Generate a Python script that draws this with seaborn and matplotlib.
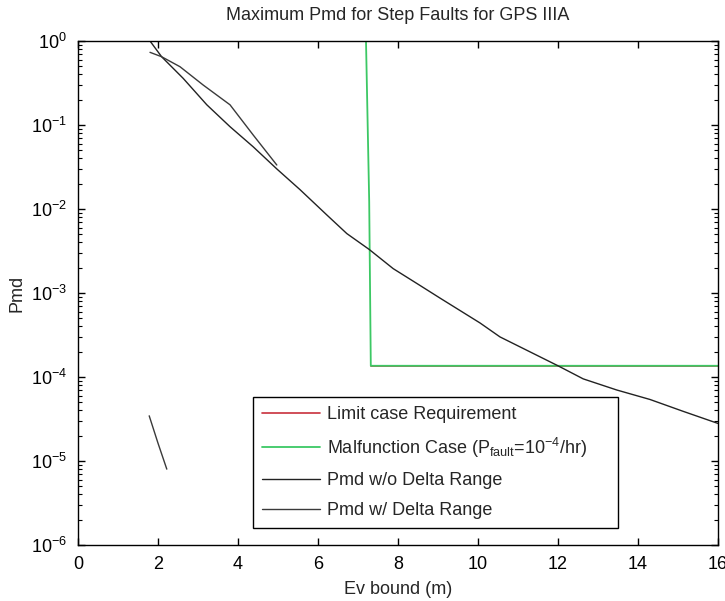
import numpy as np
import pandas as pd
import matplotlib
matplotlib.use("Agg")
import matplotlib.pyplot as plt
import seaborn as sns

# ---- data ----
ev_main = [1.8, 2.09, 2.63, 3.22, 3.8, 4.38, 4.97, 5.55, 6.22, 6.72, 7.28,
           7.88, 8.47, 9.05, 10.05, 10.55, 12.0, 12.63, 13.47, 14.3, 15.13, 16.0]
pmd_main = [1.0, 0.65, 0.359, 0.174, 0.0955, 0.055, 0.030, 0.017, 0.0085,
            0.0051, 0.0033, 0.00195, 0.0013, 8.7e-4, 4.4e-4, 3.0e-4, 1.36e-4,
            9.5e-5, 7.0e-5, 5.4e-5, 3.9e-5, 2.8e-5]

ev_delta_a = [1.8, 2.09, 2.55, 3.13, 3.8, 4.38, 4.97]
pmd_delta_a = [0.733, 0.65, 0.494, 0.299, 0.174, 0.076, 0.0334]
ev_delta_b = [1.78, 2.0, 2.22]
pmd_delta_b = [3.45e-5, 1.63e-5, 8.0e-6]

ev_malf = [7.2, 7.28, 7.32, 16.0]
pmd_malf = [1.0, 0.0123, 1.36e-4, 1.36e-4]

ev_limit = [7.32, 16.0]
pmd_limit = [1.36e-4, 1.36e-4]

labels = ["Limit case Requirement",
          r"Malfunction Case (P$_{\mathregular{fault}}$=10$^{\mathregular{-4}}$/hr)",
          "Pmd w/o Delta Range",
          "Pmd w/ Delta Range"]
x_ticks = [0, 2, 4, 6, 8, 10, 12, 14, 16]

# ---- styling ----
sns.set_style("ticks")
plt.rcParams['font.family'] = ['Liberation Sans', 'DejaVu Sans']
plt.rcParams['mathtext.fontset'] = 'custom'
plt.rcParams['mathtext.rm'] = 'Liberation Sans'
plt.rcParams['mathtext.it'] = 'Liberation Sans'
plt.rcParams['xtick.direction'] = 'in'
plt.rcParams['ytick.direction'] = 'in'

fig = plt.figure(figsize=(7.25, 6.01), dpi=100)
ax = fig.add_axes([78 / 725, (601 - 545) / 601, 640 / 725, 504 / 601])

red = "#c8303c"
green = "#3cc864"

sns.lineplot(x=ev_limit, y=pmd_limit, ax=ax, color=red, lw=1.2,
             sort=False, estimator=None, label=labels[0])
sns.lineplot(x=ev_malf, y=pmd_malf, ax=ax, color=green, lw=1.3,
             sort=False, estimator=None, label=labels[1])
sns.lineplot(x=ev_main, y=pmd_main, ax=ax, color="#222222", lw=1.0,
             sort=False, estimator=None, label=labels[2])
sns.lineplot(x=ev_delta_a, y=pmd_delta_a, ax=ax, color="#3a3a3a", lw=1.0,
             sort=False, estimator=None, label=labels[3])
sns.lineplot(x=ev_delta_b, y=pmd_delta_b, ax=ax, color="#3a3a3a", lw=1.0,
             sort=False, estimator=None)

ax.set_yscale("log")
ax.set_xlim(0, 16)
ax.set_ylim(1e-6, 1)
ax.set_xticks(x_ticks)
ax.set_xticklabels([str(t) for t in x_ticks])
ax.tick_params(which="both", top=True, right=True, labelsize=13, colors="black")
ax.tick_params(which="major", length=5, width=1)
ax.tick_params(which="minor", length=3, width=0.8)
ax.tick_params(axis="x", which="major", pad=8)
ax.tick_params(axis="y", which="major", pad=8)
for s in ax.spines.values():
    s.set_visible(True)
    s.set_color("black")
    s.set_linewidth(1.0)

ax.set_title("Maximum Pmd for Step Faults for GPS IIIA", fontsize=13, pad=15)
ax.set_xlabel("Ev bound (m)", fontsize=13, labelpad=6)
ax.set_ylabel("Pmd", fontsize=13, labelpad=4)

leg = ax.legend(loc="lower left", bbox_to_anchor=(0.273, 0.034, 0.571, 0.26),
                mode="expand", fontsize=13, frameon=True, fancybox=False,
                handlelength=3.2, handletextpad=0.4, labelspacing=0.7,
                borderpad=0.5, borderaxespad=0)
leg.get_frame().set_edgecolor("black")
leg.get_frame().set_linewidth(1.0)
leg.get_frame().set_alpha(1)

fig.savefig("out.png", dpi=100)
